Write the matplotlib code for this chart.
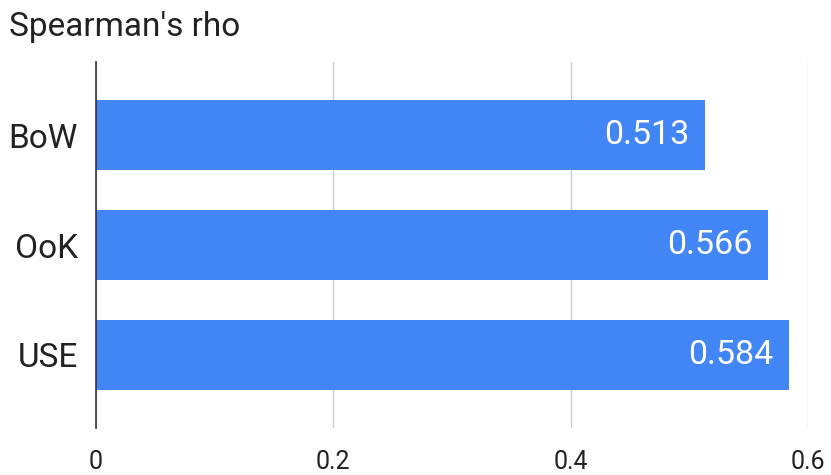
import matplotlib.pyplot as plt

plt.rcParams['font.family'] = ['Roboto', 'DejaVu Sans']

models = ['BoW', 'OoK', 'USE']
rho = [0.513, 0.566, 0.584]
xticks = [0, 0.2, 0.4, 0.6]

fig = plt.figure(figsize=(8.31, 4.75), dpi=100)
ax = fig.add_axes([96 / 831, 1 - 428 / 475, (808 - 96) / 831, (428 - 62) / 475])

ypos = list(range(len(models)))
bars = ax.barh(ypos, rho, height=0.64, color='#4285F4', zorder=3)

for y, v in zip(ypos, rho):
    ax.text(v - 0.013, y, f'{v:.3f}', ha='right', va='center',
            color='white', fontsize=24.5, zorder=4)

ax.set_xlim(0, 0.6)
ax.set_ylim(2.668, -0.668)
ax.set_yticks(ypos)
ax.set_yticklabels(models, fontsize=24, color='#222222')
ax.set_xticks(xticks)
ax.set_xticklabels(['0', '0.2', '0.4', '0.6'], fontsize=18, color='#222222')
ax.tick_params(axis='both', length=0)
ax.tick_params(axis='y', pad=13)
ax.tick_params(axis='x', pad=16)

ax.grid(axis='x', color='#cccccc', linewidth=1, zorder=0)
for s in ['top', 'right', 'bottom']:
    ax.spines[s].set_visible(False)
ax.spines['left'].set_color('#333333')
ax.spines['left'].set_linewidth(1.2)
ax.spines['left'].set_zorder(5)

fig.text(9 / 831, 1 - 36 / 475, "Spearman's rho", fontsize=24, color='#222222',
         ha='left', va='baseline')

fig.savefig('out.png', dpi=100)
